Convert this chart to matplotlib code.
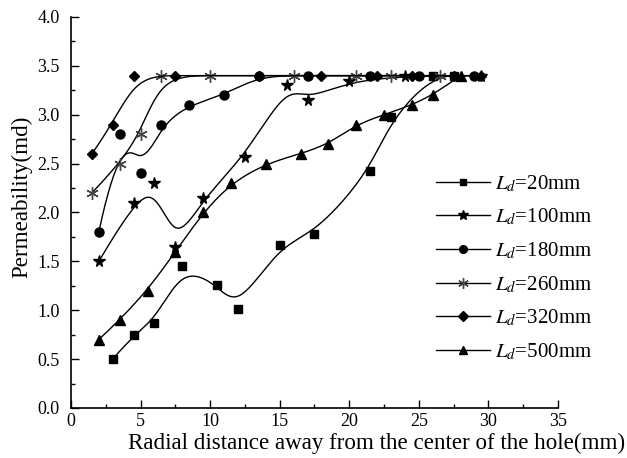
import numpy as np
import matplotlib
matplotlib.use("Agg")
import matplotlib.pyplot as plt
from matplotlib.lines import Line2D

plt.rcParams['font.family'] = ['Liberation Serif', 'DejaVu Serif']
plt.rcParams['mathtext.fontset'] = 'stix'

# radial distance (mm) and permeability (md) for each drilling length L_d
x_20 = [3, 4.5, 6, 8, 10.5, 12, 15, 17.5, 21.5, 23, 26, 27.5]
y_20 = [0.5, 0.75, 0.87, 1.45, 1.26, 1.01, 1.67, 1.78, 2.42, 2.98, 3.4, 3.4]

x_100 = [2, 4.5, 6, 7.5, 9.5, 12.5, 15.5, 17, 20, 24, 29.5]
y_100 = [1.5, 2.1, 2.3, 1.65, 2.15, 2.57, 3.3, 3.15, 3.35, 3.4, 3.4]

x_180 = [2, 3.5, 5, 6.5, 8.5, 11, 13.5, 17, 21.5, 25, 29]
y_180 = [1.8, 2.8, 2.4, 2.9, 3.1, 3.2, 3.4, 3.4, 3.4, 3.4, 3.4]

x_260 = [1.5, 3.5, 5, 6.5, 10, 16, 20.5, 23, 26.5]
y_260 = [2.2, 2.5, 2.8, 3.4, 3.4, 3.4, 3.4, 3.4, 3.4]

x_320 = [1.5, 3, 4.5, 7.5, 13.5, 18, 22, 24.5, 27.5, 29.5]
y_320 = [2.6, 2.9, 3.4, 3.4, 3.4, 3.4, 3.4, 3.4, 3.4, 3.4]

x_500 = [2, 3.5, 5.5, 7.5, 9.5, 11.5, 14, 16.5, 18.5, 20.5, 22.5, 24.5, 26, 28]
y_500 = [0.7, 0.9, 1.2, 1.6, 2.0, 2.3, 2.5, 2.6, 2.7, 2.9, 3.0, 3.1, 3.2, 3.4]

labels = ['20mm', '100mm', '180mm', '260mm', '320mm', '500mm']


def bspline(xs, ys, n=300, k=3):
    # clamped uniform B-spline with the data as control points (Origin style)
    P = np.column_stack([xs, ys]).astype(float)
    m = len(P)
    k = min(k, m - 1)
    knots = np.concatenate([np.zeros(k), np.linspace(0, 1, m - k + 1), np.ones(k)])
    out = []
    for t in np.linspace(0, 1, n):
        s = min(np.searchsorted(knots, t, side='right') - 1, m - 1)
        d = [P[j + s - k].copy() for j in range(k + 1)]
        for r in range(1, k + 1):
            for j in range(k, r - 1, -1):
                den = knots[j + 1 + s - r] - knots[j + s - k]
                a = 0.0 if den == 0 else (t - knots[j + s - k]) / den
                d[j] = (1 - a) * d[j - 1] + a * d[j]
        out.append(d[k])
    out = np.array(out)
    return out[:, 0], out[:, 1]


fig = plt.figure(figsize=(6.27, 4.58), dpi=100)
ax = fig.add_axes([0.1132, 0.1092, 0.7767, 0.8537])

series = [
    (x_20, y_20, 's', 5.5, 'black'),
    (x_100, y_100, '*', 8.5, 'black'),
    (x_180, y_180, 'o', 6.5, 'black'),
    (x_260, y_260, (6, 2, 0), 9, '#444444'),
    (x_320, y_320, 'D', 5.5, 'black'),
    (x_500, y_500, '^', 7, 'black'),
]

handles = []
for (xs, ys, mk, ms, mc), lab in zip(series, labels):
    sx, sy = bspline(xs, ys)
    ax.plot(sx, sy, color='black', lw=1.0)
    ax.plot(xs, ys, linestyle='none', marker=mk, markersize=ms,
            color=mc, markeredgecolor=mc, markeredgewidth=1.0)
    handles.append(Line2D([], [], color='black', lw=1.0, marker=mk,
                          markersize=ms * 0.85, markerfacecolor=mc,
                          markeredgecolor=mc, label=r'$L_d$=' + lab))

ax.set_xlim(0, 35)
ax.set_ylim(0, 4.0)
ax.set_xticks(np.arange(0, 36, 5))
ax.set_xticks(np.arange(2.5, 35, 5), minor=True)
ax.set_yticks(np.arange(0, 4.01, 0.5))
ax.set_yticks(np.arange(0.25, 4.0, 0.5), minor=True)
ax.yaxis.set_major_formatter(matplotlib.ticker.FormatStrFormatter('%.1f'))
ax.tick_params(which='both', direction='in', labelsize=13, width=1.0)
ax.tick_params(which='major', length=6)
ax.tick_params(which='minor', length=3)
ax.tick_params(axis='y', pad=8)
ax.spines['top'].set_visible(False)
ax.spines['right'].set_visible(False)
for sp in ['left', 'bottom']:
    ax.spines[sp].set_linewidth(1.2)

ax.set_xlabel('Radial distance away from the center of the hole(mm)', fontsize=16.6)
ax.xaxis.set_label_coords(0.627, -0.064)
ax.set_ylabel('Permeability(md)', fontsize=16.6)
ax.yaxis.set_label_coords(-0.08, 0.54)

ax.legend(handles=handles, loc='upper left', bbox_to_anchor=(0.75, 0.60),
          frameon=False, fontsize=15, handlelength=2.6, labelspacing=0.62,
          handletextpad=0.2, borderaxespad=0, borderpad=0)

fig.savefig('out.png', dpi=100)
